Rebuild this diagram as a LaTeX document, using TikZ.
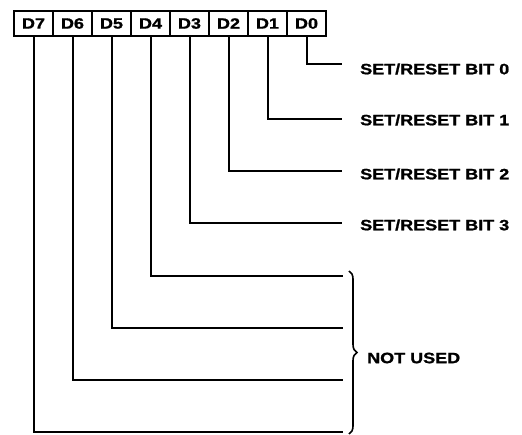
\documentclass[tikz,border=0pt]{standalone}
\usepackage{fontspec}
\setmainfont{Liberation Sans}[FakeStretch=1.2,BoldFeatures={FakeBold=1.2}]
\usetikzlibrary{decorations.pathreplacing}
\begin{document}
\begin{tikzpicture}[x=1pt,y=-1pt,
  bitbox/.style={draw,line width=2.2pt,minimum width=39pt,minimum height=25pt,inner sep=0pt,font=\bfseries\fontsize{15}{15}\selectfont},
  wire/.style={line width=2pt},
  lab/.style={anchor=west,inner sep=0pt,font=\bfseries\fontsize{15}{15}\selectfont}]
\useasboundingbox (0,0) rectangle (522,435);
\foreach \n [count=\i from 0] in {7,6,5,4,3,2,1,0}
  \node[bitbox] (d\n) at ({33.5+39*\i},23.5) {D\n};
% end points
\coordinate (e0) at (342,64);
\coordinate (e1) at (342,119);
\coordinate (e2) at (342,171);
\coordinate (e3) at (342,223);
\coordinate (e4) at (343,276);
\coordinate (e5) at (343,328);
\coordinate (e6) at (343,380);
\coordinate (e7) at (343,432);
\foreach \n in {0,...,7}
  \draw[wire] (d\n.south) |- (e\n);
\node[lab] (l0) at (360,69) {SET/RESET BIT 0};
\node[lab] (l1) at (360,120) {SET/RESET BIT 1};
\node[lab] (l2) at (360,174) {SET/RESET BIT 2};
\node[lab] (l3) at (360,225) {SET/RESET BIT 3};
\node[lab] (nu) at (367,358) {NOT USED};
\coordinate (bt) at (349,271);
\coordinate (bb) at (349,434);
\draw[line width=1.6pt,decorate,decoration={brace,amplitude=8pt}] (bt) -- (bb);
\end{tikzpicture}
\end{document}
